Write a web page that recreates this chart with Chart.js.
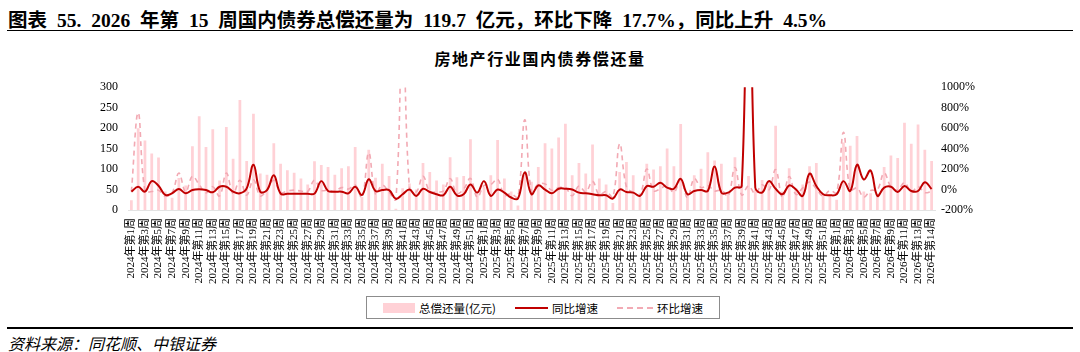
<!DOCTYPE html>
<html>
<head>
<meta charset="utf-8">
<script src="https://cdn.jsdelivr.net/npm/chart.js@4.4.1/dist/chart.umd.min.js"></script>
<style>
  body { margin: 0; width: 1080px; height: 352px; background: #fff; position: relative; overflow: hidden;
         font-family: "Liberation Serif", "Noto Sans CJK SC", serif; color: #000; }
  #title { position: absolute; left: 8px; top: 4px; font-size: 19.5px; word-spacing: 5px; font-weight: bold; white-space: nowrap; }
  #rule1 { position: absolute; left: 7px; right: 7px; top: 30px; border-top: 1.5px solid #000; }
  #ctitle { position: absolute; left: 0; width: 1080px; top: 46px; text-align: center; font-size: 16px;
            letter-spacing: 1.6px; font-weight: bold; }
  #wrap { position: absolute; left: 0; top: 70px; width: 1080px; height: 220px; }
  #legend { position: absolute; left: 366px; top: 296px; width: 352px; height: 21px; border: 1px solid #8c8c8c;
            display: flex; align-items: center; justify-content: center; gap: 19px; font-size: 11.5px;
            font-family: "Noto Sans CJK SC", sans-serif; }
  .item { display: flex; align-items: center; gap: 4px; }
  .sw-bar { width: 32px; height: 10px; background: #ffd1d6; }
  .sw-line { width: 33px; height: 0; border-top: 2.5px solid #c00000; }
  .sw-dash { width: 36px; height: 0; border-top: 2px dashed #f2aab4; }
  #rule2 { position: absolute; left: 7px; right: 7px; top: 327px; border-top: 2px solid #000; }
  #source { position: absolute; left: 8px; top: 331px; font-size: 16px; font-style: italic;
            font-family: "Noto Sans CJK SC", sans-serif; }
</style>
</head>
<body>
<div id="title">图表 55. 2026 年第 15 周国内债券总偿还量为 119.7 亿元，环比下降 17.7%，同比上升 4.5%</div>
<div id="rule1"></div>
<div id="ctitle">房地产行业国内债券偿还量</div>
<div id="wrap"><canvas id="chart" width="1080" height="220"></canvas></div>
<div id="legend">
  <span class="item"><span class="sw-bar"></span>总偿还量(亿元)</span>
  <span class="item"><span class="sw-line"></span>同比增速</span>
  <span class="item"><span class="sw-dash"></span>环比增速</span>
</div>
<div id="rule2"></div>
<div id="source">资料来源：同花顺、中银证券</div>

<script>
// categories: 2024 wk1-52, 2025 wk1-52, 2026 (last label as printed in the source)
const weeks2024 = 52;
const weeks2025 = 52;
const weeks2026 = [1, 2, 3, 4, 5, 6, 7, 8, 9, 10, 11, 12, 13, 13, 14];

const labels = [];
for (let w = 1; w <= weeks2024; w++) labels.push('2024年第' + w + '周');
for (let w = 1; w <= weeks2025; w++) labels.push('2025年第' + w + '周');
weeks2026.forEach(w => labels.push('2026年第' + w + '周'));

// 总偿还量(亿元)
const repay = [
  24, 200, 170, 138, 128, 45, 30, 78, 60, 156,
  229, 154, 197, 72, 203, 125, 269, 120, 235, 89,
  86, 163, 113, 97, 91, 77, 62, 119, 110, 105,
  86, 102, 107, 154, 32, 147, 79, 113, 83, 3,
  53, 65, 50, 115, 93, 72, 62, 129, 80, 83,
  173, 41, 57, 85, 171, 77, 45, 11, 86, 69,
  105, 163, 150, 177, 211, 85, 115, 89, 160, 77,
  62, 17, 93, 117, 85, 41, 113, 99, 107, 150,
  107, 210, 41, 85, 101, 141, 121, 113, 41, 129,
  61, 83, 50, 73, 70, 206, 45, 102, 53, 62,
  107, 115, 41, 37, 25, 165, 157, 181, 45, 41,
  40, 105, 133, 127, 213, 162, 209, 147, 119.7
];

// 同比增速 (%)
const yoy = [
  -21, 27, -21, 82, 37, -53, -37, 5, -37, -5,
  2, -5, -27, 27, 27, -21, -37, 11, 242, -21,
  -5, 139, -40, -42, -42, -42, -42, -40, 82, -14,
  -21, -21, -37, 27, -53, 101, -14, -5, -5, -91,
  -46, 0, -62, 8, -24, -46, -56, 27, -56, -46,
  50, -30, 82, -62, 0, -30, -78, -88, 168, -46,
  40, 0, -37, 8, 8, 0, -30, -37, -46, -56,
  -56, -88, 0, -24, -30, -62, 34, 27, 66, 18,
  8, 104, -46, -14, -5, -14, 226, -30, -30, 18,
  34, 2700, 18, -30, 82, 8, -46, 40, 0, -62,
  155, 34, -46, -56, -46, 82, -14, 242, 98, 187,
  -62, 18, 27, -24, 34, -14, -14, 72, 4.5
];

// 环比增速 (%)
const mom = [
  -20, 750, -15, -19, -7, -65, -33, 160, -23, 130,
  47, -33, 28, -63, 160, -38, 90, -55, 95, -62,
  -3, 90, -31, -14, -6, -15, -19, 92, -8, -5,
  -18, 19, 5, 44, -79, 360, -46, 43, -27, -96,
  1667, 23, -23, 130, -19, -23, -14, 108, -38, 4,
  108, -76, 39, 49, 101, -55, -42, -76, 682, -20,
  52, 55, -8, 18, 19, -60, 35, -23, 80, -52,
  -19, -73, 447, 26, -27, -52, 200, -12, 8, 40,
  -29, 96, -80, 107, 19, 40, -14, -7, -64, 215,
  -53, 36, -40, 46, -4, 194, -78, 127, -48, 17,
  73, 7, -64, -10, -32, 560, -5, 15, -75, -9,
  -2, 162, 27, -5, 68, -24, 29, -30, -17.7
];

const leftTicks = { min: 0, max: 300, step: 50 };
const rightTicks = { min: -200, max: 1000, step: 200 };

const serif = "'Liberation Serif', 'Noto Sans CJK SC', serif";

new Chart(document.getElementById('chart'), {
  data: {
    labels,
    datasets: [
      {
        type: 'line', label: '同比增速', data: yoy, yAxisID: 'y1',
        borderColor: '#c00000', borderWidth: 2, pointRadius: 0, tension: 0.4, order: 1
      },
      {
        type: 'line', label: '环比增速', data: mom, yAxisID: 'y1',
        borderColor: '#f2a9b3', borderWidth: 1.6, borderDash: [5, 4], pointRadius: 0, tension: 0.4, order: 2
      },
      {
        type: 'bar', label: '总偿还量(亿元)', data: repay, yAxisID: 'y',
        backgroundColor: '#ffd1d6', barPercentage: 0.9, categoryPercentage: 0.45, order: 3
      }
    ]
  },
  options: {
    responsive: false,
    animation: false,
    layout: { padding: { top: 15, left: 0, right: 0, bottom: 0 } },
    plugins: { legend: { display: false }, tooltip: { enabled: false } },
    scales: {
      x: {
        grid: { display: false, drawTicks: false },
        border: { color: '#e3e3e3' },
        ticks: {
          autoSkip: false, maxRotation: 90, minRotation: 90, padding: 8,
          color: '#000', font: { family: serif, size: 11 },
          callback: (v, i) => (i % 2 === 0 ? labels[i] : '')
        },
        afterFit: s => { s.height = 80; }
      },
      y: {
        position: 'left', min: leftTicks.min, max: leftTicks.max,
        grid: { display: false, drawTicks: false }, border: { display: false },
        ticks: { stepSize: leftTicks.step, padding: 10, color: '#000', font: { family: serif, size: 12 } },
        afterFit: s => { s.width = 128; }
      },
      y1: {
        position: 'right', min: rightTicks.min, max: rightTicks.max,
        grid: { display: false, drawTicks: false }, border: { display: false },
        ticks: { stepSize: rightTicks.step, padding: 6, color: '#000', font: { family: serif, size: 12 },
                 callback: v => v + '%' },
        afterFit: s => { s.width = 145; }
      }
    }
  }
});
</script>
</body>
</html>
